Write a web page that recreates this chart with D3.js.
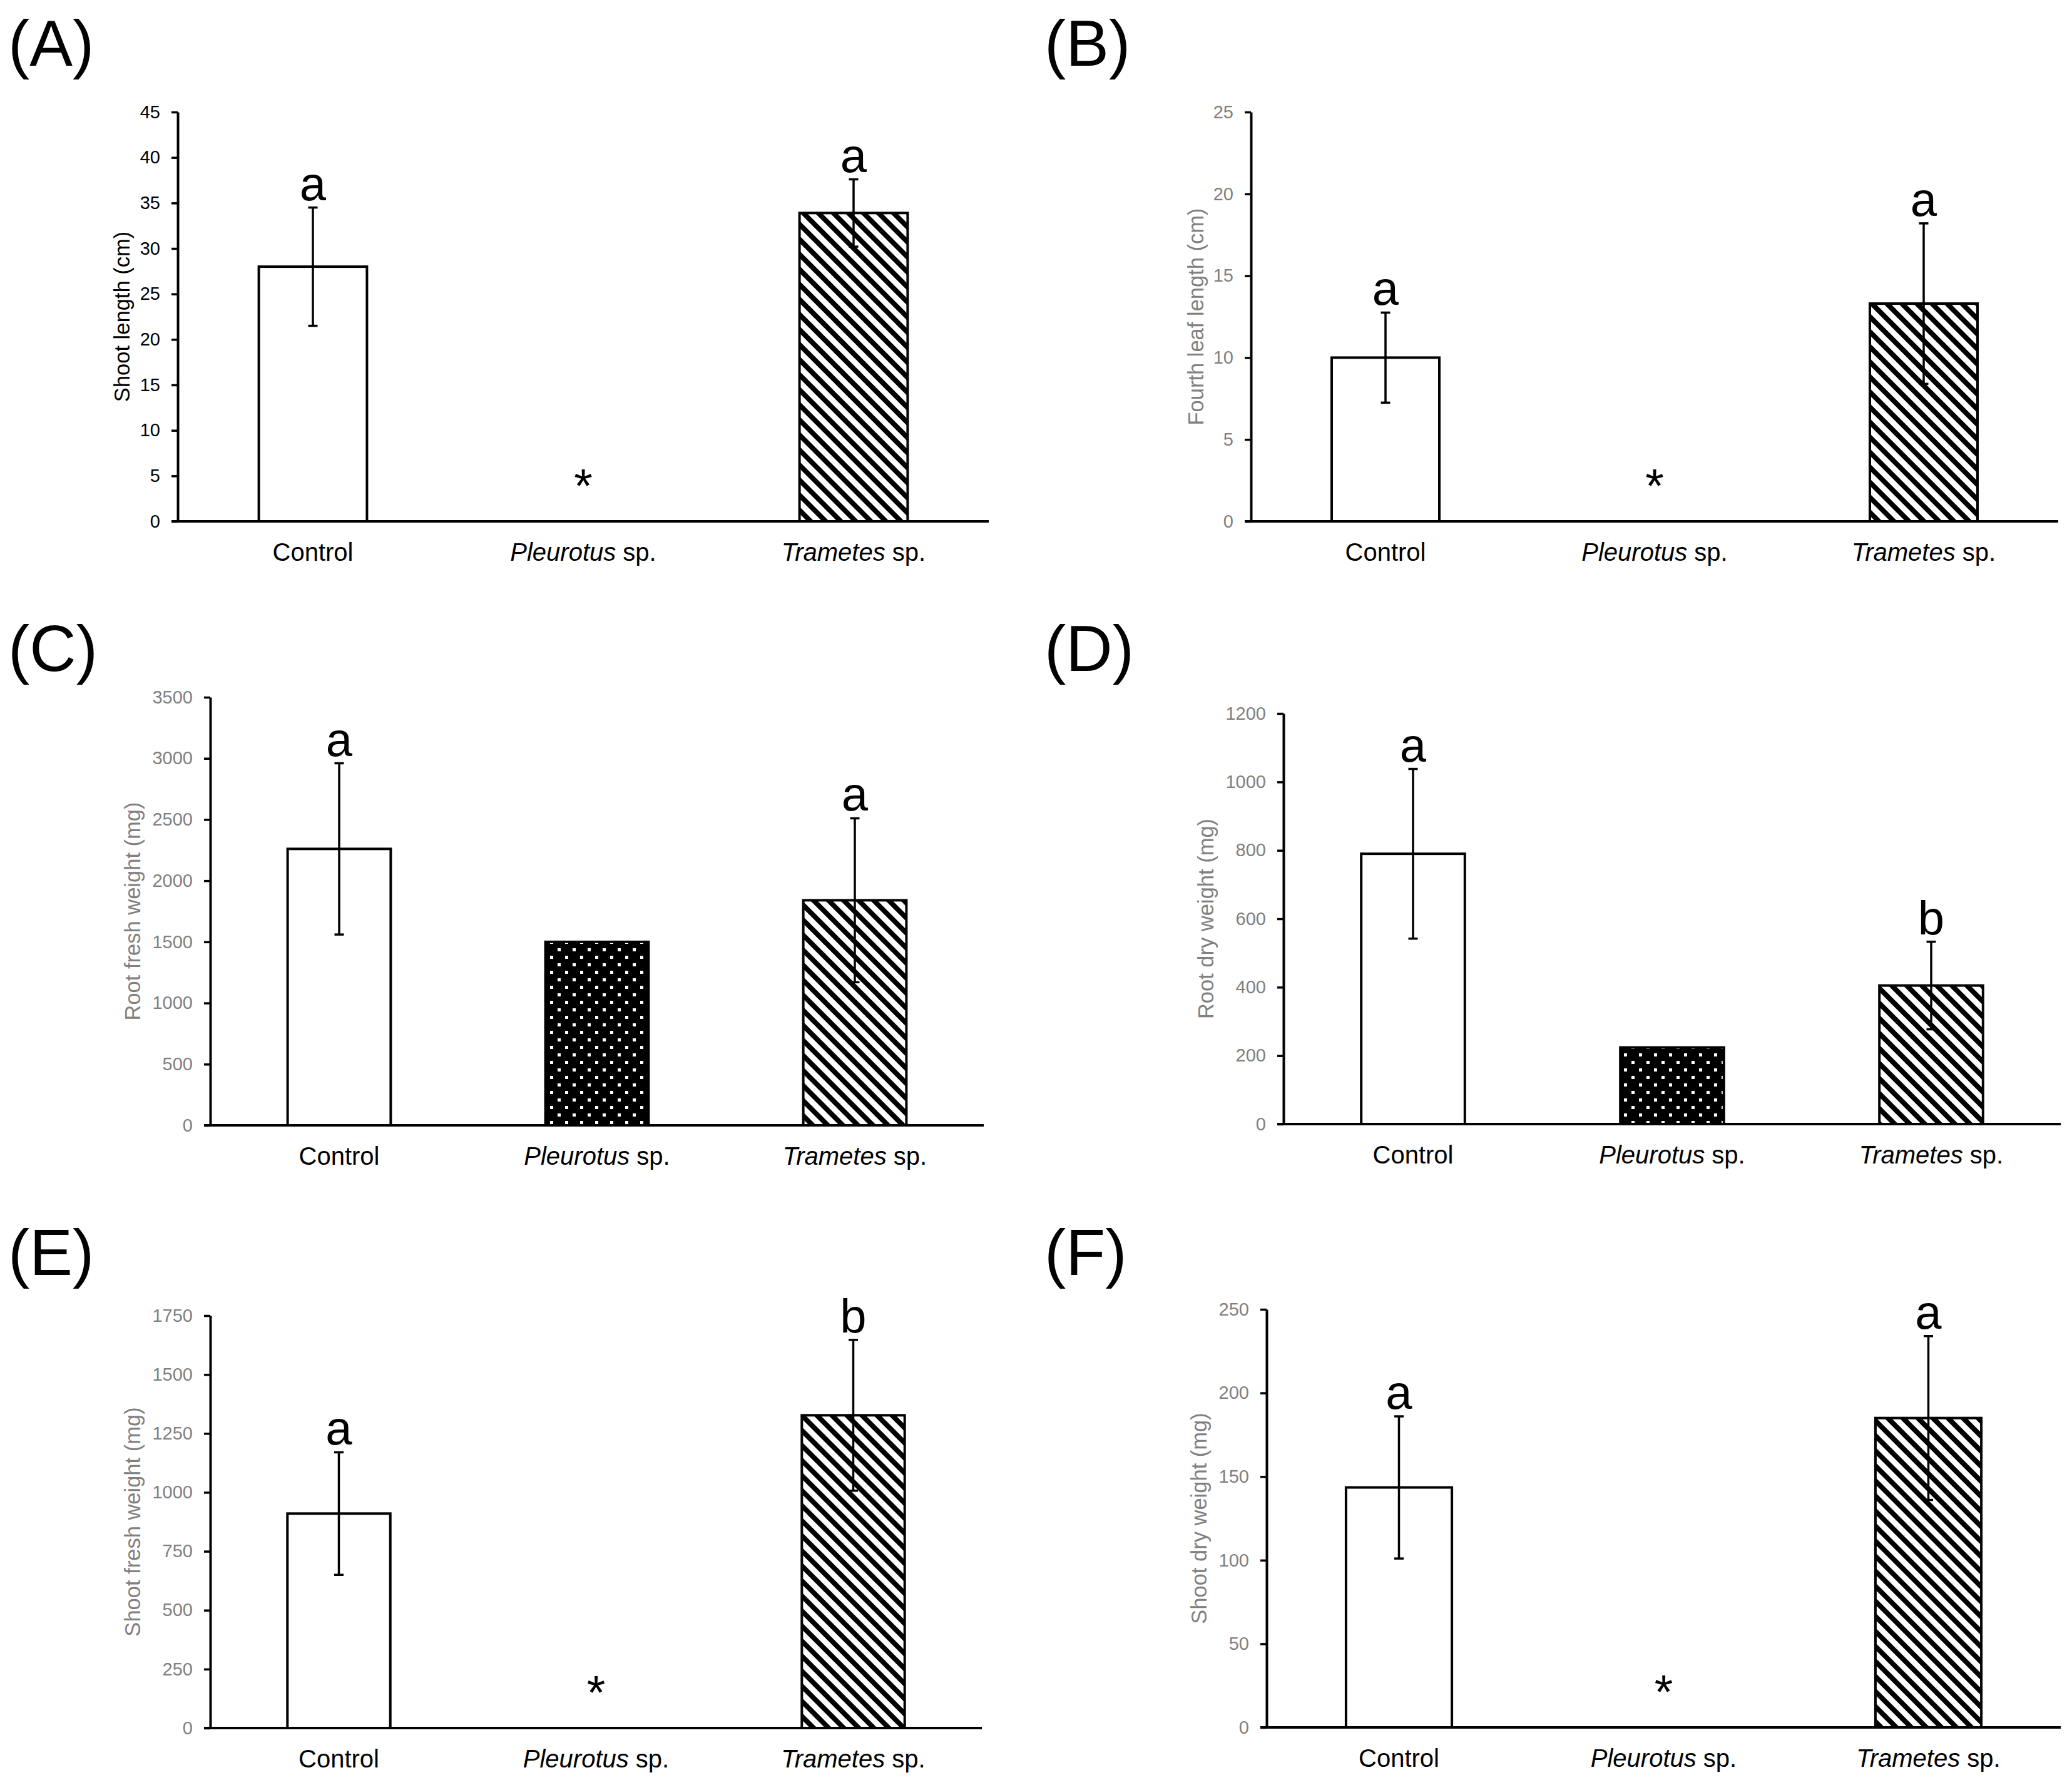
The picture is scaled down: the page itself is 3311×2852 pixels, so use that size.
<!DOCTYPE html>
<html>
<head>
<meta charset="utf-8">
<script src="https://cdn.jsdelivr.net/npm/d3@7"></script>
<title>Fungal treatments - growth</title>
<style>
    body { margin: 0; background: #fff; }
    svg { display: block; background: #fff; }
    text { font-family: "Liberation Sans", Arial, sans-serif; }
</style>
</head>
<body>
<svg id="chart" width="3311" height="2852"></svg>

<script>
    const categories = ["Control", "Pleurotus", "Trametes"];

    // (A) shoot length
    const shootLength = [28.0, 0, 33.9];
    const shootLengthErr = [6.5, 0, 3.7];
    const shootLengthLetters = ["a", "*", "a"];
    const shootLengthTicks = [0, 5, 10, 15, 20, 25, 30, 35, 40, 45];

    // (B) fourth leaf length
    const leafLength = [10.0, 0, 13.3];
    const leafLengthErr = [2.75, 0, 4.9];
    const leafLengthLetters = ["a", "*", "a"];
    const leafLengthTicks = [0, 5, 10, 15, 20, 25];

    // (C) root fresh weight
    const rootFresh = [2260, 1500, 1840];
    const rootFreshErr = [700, 0, 670];
    const rootFreshLetters = ["a", "", "a"];
    const rootFreshTicks = [0, 500, 1000, 1500, 2000, 2500, 3000, 3500];

    // (D) root dry weight
    const rootDry = [790, 224, 405];
    const rootDryErr = [248, 0, 128];
    const rootDryLetters = ["a", "", "b"];
    const rootDryTicks = [0, 200, 400, 600, 800, 1000, 1200];

    // (E) shoot fresh weight
    const shootFresh = [910, 0, 1327];
    const shootFreshErr = [260, 0, 320];
    const shootFreshLetters = ["a", "*", "b"];
    const shootFreshTicks = [0, 250, 500, 750, 1000, 1250, 1500, 1750];

    // (F) shoot dry weight
    const shootDry = [143.5, 0, 185];
    const shootDryErr = [42.5, 0, 49];
    const shootDryLetters = ["a", "*", "a"];
    const shootDryTicks = [0, 50, 100, 150, 200, 250];

    const panels = [
        {tag: "(A)", tagX: 13, tagY: 105, x0: 284, x1: 1580, yTop: 179, y0: 833, titleX: 195,
         title: "Shoot length (cm)", grey: false,
         values: shootLength, err: shootLengthErr, letters: shootLengthLetters, ticks: shootLengthTicks},
        {tag: "(B)", tagX: 1669, tagY: 105, x0: 1999, x1: 3289, yTop: 179, y0: 833, titleX: 1911,
         title: "Fourth leaf length (cm)", grey: true,
         values: leafLength, err: leafLengthErr, letters: leafLengthLetters, ticks: leafLengthTicks},
        {tag: "(C)", tagX: 13, tagY: 1072, x0: 336, x1: 1572, yTop: 1114, y0: 1798, titleX: 212,
         title: "Root fresh weight (mg)", grey: true,
         values: rootFresh, err: rootFreshErr, letters: rootFreshLetters, ticks: rootFreshTicks},
        {tag: "(D)", tagX: 1669, tagY: 1072, x0: 2051, x1: 3293, yTop: 1140, y0: 1796, titleX: 1927,
         title: "Root dry weight (mg)", grey: true,
         values: rootDry, err: rootDryErr, letters: rootDryLetters, ticks: rootDryTicks},
        {tag: "(E)", tagX: 13, tagY: 2037, x0: 336, x1: 1569, yTop: 2102, y0: 2761, titleX: 212,
         title: "Shoot fresh weight (mg)", grey: true,
         values: shootFresh, err: shootFreshErr, letters: shootFreshLetters, ticks: shootFreshTicks},
        {tag: "(F)", tagX: 1669, tagY: 2037, x0: 2024, x1: 3293, yTop: 2092, y0: 2760, titleX: 1916,
         title: "Shoot dry weight (mg)", grey: true,
         values: shootDry, err: shootDryErr, letters: shootDryLetters, ticks: shootDryTicks}
    ];

    const svg = d3.select("#chart");
    const defs = svg.append("defs");

    // diagonal hatch for Trametes
    const hatch = defs.append("pattern")
        .attr("id", "hatch")
        .attr("patternUnits", "userSpaceOnUse")
        .attr("width", 17).attr("height", 17)
        .attr("patternTransform", "rotate(-45)");
    hatch.append("rect").attr("width", 17).attr("height", 17).attr("fill", "#fff");
    hatch.append("rect").attr("width", 8).attr("height", 17).attr("fill", "#000");

    // white dots on black for Pleurotus
    const dots = defs.append("pattern")
        .attr("id", "dots")
        .attr("patternUnits", "userSpaceOnUse")
        .attr("width", 24).attr("height", 24);
    dots.append("rect").attr("width", 24).attr("height", 24).attr("fill", "#000");
    dots.append("rect").attr("x", 3).attr("y", 3).attr("width", 5).attr("height", 5).attr("fill", "#fff");
    dots.append("rect").attr("x", 15).attr("y", 15).attr("width", 5).attr("height", 5).attr("fill", "#fff");

    const fills = ["#fff", "url(#dots)", "url(#hatch)"];

    panels.forEach(p => {
        const g = svg.append("g");
        const x = d3.scaleBand().domain(categories).range([p.x0, p.x1])
            .paddingInner(0.6).paddingOuter(0.3);
        const y = d3.scaleLinear().domain([0, d3.max(p.ticks)]).range([p.y0, p.yTop]);
        const labelColor = p.grey ? "#808080" : "#000";

        const rows = categories.map((c, i) => ({
            cat: c, value: p.values[i], err: p.err[i], letter: p.letters[i], fill: fills[i]
        }));

        // bars
        g.selectAll("rect.bar")
            .data(rows.filter(d => d.value > 0))
            .join("rect")
            .attr("class", "bar")
            .attr("x", d => x(d.cat))
            .attr("width", x.bandwidth())
            .attr("y", d => y(d.value))
            .attr("height", d => y(0) - y(d.value))
            .attr("fill", d => d.fill)
            .attr("stroke", "#000")
            .attr("stroke-width", 4);

        // error bars
        const eb = g.selectAll("g.err")
            .data(rows.filter(d => d.err > 0))
            .join("g")
            .attr("class", "err")
            .attr("stroke", "#000")
            .attr("stroke-width", 3.5);
        const cx = d => x(d.cat) + x.bandwidth() / 2;
        eb.append("line")
            .attr("x1", cx).attr("x2", cx)
            .attr("y1", d => y(d.value - d.err)).attr("y2", d => y(d.value + d.err));
        eb.append("line")
            .attr("x1", d => cx(d) - 7.5).attr("x2", d => cx(d) + 7.5)
            .attr("y1", d => y(d.value + d.err)).attr("y2", d => y(d.value + d.err));
        eb.append("line")
            .attr("x1", d => cx(d) - 7.5).attr("x2", d => cx(d) + 7.5)
            .attr("y1", d => y(d.value - d.err)).attr("y2", d => y(d.value - d.err));

        // significance letters and asterisks
        g.selectAll("text.sig")
            .data(rows.filter(d => d.letter !== ""))
            .join("text")
            .attr("class", "sig")
            .attr("x", cx)
            .attr("y", d => d.letter === "*" ? y(0) - 31 : y(d.value + d.err) - 12)
            .attr("text-anchor", "middle")
            .attr("font-size", 76)
            .attr("fill", "#000")
            .text(d => d.letter);

        // y axis
        const ya = g.append("g")
            .attr("transform", `translate(${p.x0},0)`)
            .call(d3.axisLeft(y).tickValues(p.ticks).tickFormat(d3.format("d"))
                .tickSize(10).tickSizeOuter(0).tickPadding(18));
        ya.select(".domain").attr("stroke", "#000").attr("stroke-width", 4);
        ya.selectAll(".tick line").attr("stroke", "#000").attr("stroke-width", 3.5);
        ya.selectAll(".tick text")
            .attr("font-family", "'Liberation Sans', Arial, sans-serif")
            .attr("font-size", 29)
            .attr("fill", labelColor);

        // x axis line
        const xa = g.append("g")
            .attr("transform", `translate(0,${p.y0})`)
            .call(d3.axisBottom(x).tickSize(0).tickSizeOuter(0).tickFormat(""));
        xa.select(".domain").attr("stroke", "#000").attr("stroke-width", 4)
            .attr("d", `M${p.x0 - 10},0H${p.x1}`);
        xa.selectAll(".tick").remove();

        // category labels
        const lab = g.selectAll("text.cat")
            .data(categories)
            .join("text")
            .attr("class", "cat")
            .attr("x", d => x(d) + x.bandwidth() / 2)
            .attr("y", p.y0 + 63)
            .attr("text-anchor", "middle")
            .attr("font-size", 40)
            .attr("fill", "#000");
        lab.each(function (d) {
            const t = d3.select(this);
            if (d === "Control") {
                t.text(d);
            } else {
                t.append("tspan").attr("font-style", "italic").text(d);
                t.append("tspan").text(" sp.");
            }
        });

        // y title
        g.append("text")
            .attr("transform", `translate(${p.titleX},${(p.y0 + p.yTop) / 2}) rotate(-90)`)
            .attr("text-anchor", "middle")
            .attr("dominant-baseline", "central")
            .attr("font-size", 34.5)
            .attr("fill", labelColor)
            .text(p.title);

        // panel tag
        g.append("text")
            .attr("x", p.tagX)
            .attr("y", p.tagY)
            .attr("font-size", 103)
            .attr("fill", "#000")
            .text(p.tag);
    });
</script>
</body>
</html>
